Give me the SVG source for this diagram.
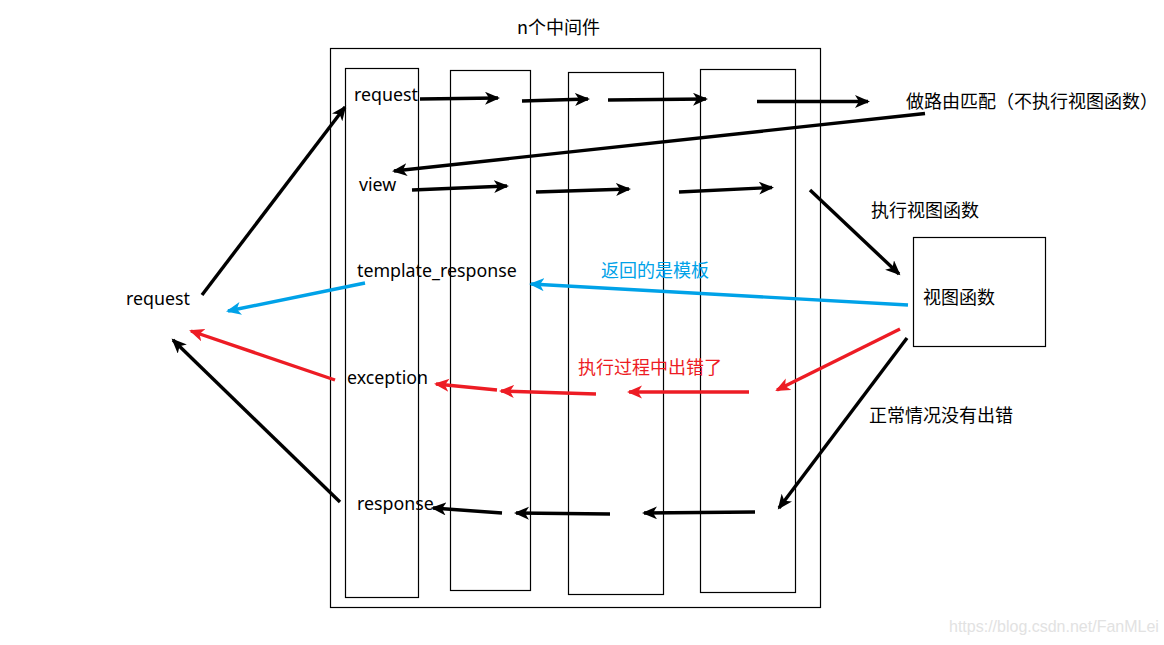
<svg xmlns="http://www.w3.org/2000/svg" width="1164" height="645" viewBox="0 0 1164 645">
<style>
.box{fill:#fff;stroke:#000;stroke-width:1.2}
.t{font-family:"Noto Sans","Noto Sans CJK SC",sans-serif;font-size:17.8px;fill:#000}
.c{font-family:"Noto Sans CJK SC","Noto Sans",sans-serif;font-size:18px}
.k{stroke:#000;stroke-width:3.4;fill:none;marker-end:url(#ak)}
.b{stroke:#00A2E8;stroke-width:3.4;fill:none;marker-end:url(#ab)}
.r{stroke:#ED1C24;stroke-width:3.4;fill:none;marker-end:url(#ar)}
</style>
<defs>
<marker id="ak" markerUnits="userSpaceOnUse" markerWidth="16" markerHeight="14" refX="13" refY="6.5" orient="auto"><path d="M0,0 L15,6.5 L0,13 L4,6.5 z" fill="#000"/></marker>
<marker id="ab" markerUnits="userSpaceOnUse" markerWidth="16" markerHeight="14" refX="13" refY="6.5" orient="auto"><path d="M0,0 L15,6.5 L0,13 L4,6.5 z" fill="#00A2E8"/></marker>
<marker id="ar" markerUnits="userSpaceOnUse" markerWidth="16" markerHeight="14" refX="13" refY="6.5" orient="auto"><path d="M0,0 L15,6.5 L0,13 L4,6.5 z" fill="#ED1C24"/></marker>
</defs>
<rect width="1164" height="645" fill="#fff"/>
<g id="container">
<rect class="box" x="330.5" y="48.5" width="490" height="559"/>
<text class="t c" x="517" y="34">n个中间件</text>
</g>
<g id="mw1"><rect class="box" x="345.5" y="68.5" width="73" height="529"/></g>
<g id="mw2"><rect class="box" x="450.5" y="70.5" width="80" height="520"/></g>
<g id="mw3"><rect class="box" x="568.5" y="72.5" width="95" height="522"/></g>
<g id="mw4"><rect class="box" x="700.5" y="69.5" width="95" height="523"/></g>
<g id="viewfunc"><rect class="box" x="913.5" y="237.5" width="132" height="109"/>
<text class="t c" x="923" y="304">视图函数</text></g>
<g id="labels">
<text class="t" x="354" y="101">request</text>
<text class="t" x="359" y="191">view</text>
<text class="t" x="357" y="277">template_response</text>
<text class="t" x="347" y="384">exception</text>
<text class="t" x="357" y="510">response</text>
<text class="t" x="126" y="305">request</text>
<text class="t c" x="906" y="108">做路由匹配（不执行视图函数）</text>
<text class="t c" x="871" y="217">执行视图函数</text>
<text class="t c" x="869" y="422">正常情况没有出错</text>
<text class="t c" x="601" y="277" style="fill:#00A2E8">返回的是模板</text>
<text class="t c" x="578" y="374" style="fill:#ED1C24">执行过程中出错了</text>
<text x="949" y="632" style="font-family:'Liberation Sans',Arial,sans-serif;font-size:16px;fill:#e2e2e2">https://blog.csdn.net/FanMLei</text>
</g>
<g id="connectors">
<line class="k" x1="202" y1="295" x2="345" y2="107"/>
<line class="k" x1="420" y1="99" x2="498" y2="98"/>
<line class="k" x1="522" y1="101" x2="588" y2="99"/>
<line class="k" x1="608" y1="100" x2="706" y2="99"/>
<line class="k" x1="757" y1="101.5" x2="868" y2="101.5"/>
<line class="k" x1="925" y1="113.5" x2="394" y2="171"/>
<line class="k" x1="412" y1="190" x2="507" y2="186"/>
<line class="k" x1="536" y1="192" x2="629" y2="189"/>
<line class="k" x1="679" y1="192" x2="772" y2="187.5"/>
<line class="k" x1="810" y1="190" x2="899" y2="274"/>
<line class="b" x1="908" y1="305" x2="531" y2="284"/>
<line class="b" x1="365" y1="283" x2="228" y2="311"/>
<line class="r" x1="900" y1="329" x2="777" y2="390"/>
<line class="r" x1="749" y1="392" x2="629" y2="392"/>
<line class="r" x1="596" y1="394" x2="501" y2="391"/>
<line class="r" x1="497" y1="390" x2="436" y2="384"/>
<line class="r" x1="335" y1="380" x2="191" y2="331"/>
<line class="k" x1="907" y1="338" x2="779" y2="508"/>
<line class="k" x1="755" y1="512" x2="644" y2="513"/>
<line class="k" x1="610" y1="514" x2="516" y2="513"/>
<line class="k" x1="502" y1="513" x2="433" y2="508"/>
<line class="k" x1="340" y1="502" x2="173" y2="340"/>
</g>
</svg>
